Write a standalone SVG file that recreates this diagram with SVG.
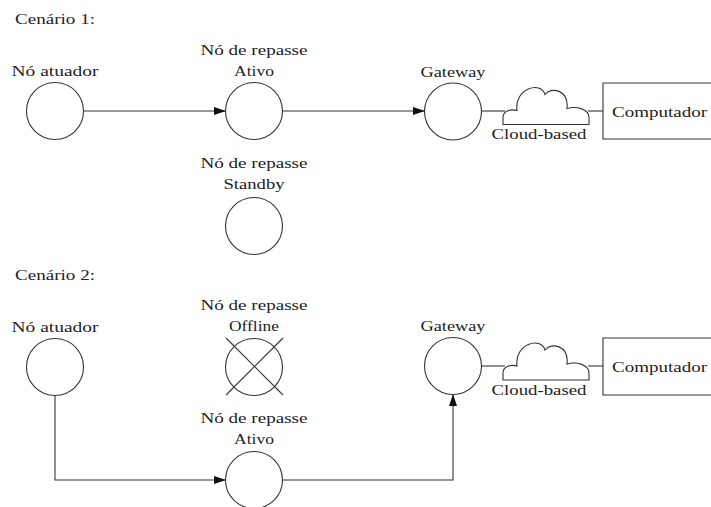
<svg xmlns="http://www.w3.org/2000/svg" width="711" height="507" viewBox="0 0 711 507">
  <style>
    text { font-family: "Liberation Serif", "DejaVu Serif", serif; font-size: 14.5px; fill: #222; }
    .mid { text-anchor: middle; }
    .node { fill: #fff; stroke: #333; stroke-width: 1.1; }
    .edge { fill: none; stroke: #333; stroke-width: 1.1; }
  </style>
  <defs>
    <marker id="arrow" viewBox="0 0 12 8" refX="12" refY="4" markerWidth="12" markerHeight="8" markerUnits="userSpaceOnUse" orient="auto">
      <path d="M0,0 L12,4 L0,8 Z" fill="#111"/>
    </marker>
    <path id="cloud" d="M0,0 L0,-7 C0,-13 7,-16 14,-14 C11,-36 38,-44 42,-30 C48,-38 66,-35 64,-16 C74,-19 86,-15 86,-7 L86,0 Z"/>
  </defs>

  <!-- Scenario 1 -->
  <text x="15" y="24" textLength="80" lengthAdjust="spacingAndGlyphs">Cenário 1:</text>

  <g id="connectors-1">
    <line class="edge" x1="84" y1="111" x2="226" y2="111" marker-end="url(#arrow)"/>
    <line class="edge" x1="282" y1="111" x2="425" y2="111" marker-end="url(#arrow)"/>
    <line class="edge" x1="481" y1="111" x2="505" y2="111"/>
    <line class="edge" x1="588" y1="111" x2="603" y2="111"/>
  </g>

  <g id="s1-atuador">
    <text class="mid" x="55" y="76" textLength="87" lengthAdjust="spacingAndGlyphs">Nó atuador</text>
    <circle class="node" cx="55" cy="111" r="28.5"/>
  </g>

  <g id="s1-repasse-ativo">
    <text class="mid" x="254" y="55" textLength="107" lengthAdjust="spacingAndGlyphs">Nó de repasse</text>
    <text class="mid" x="254" y="76" textLength="40" lengthAdjust="spacingAndGlyphs">Ativo</text>
    <circle class="node" cx="254" cy="111" r="28.5"/>
  </g>

  <g id="s1-repasse-standby">
    <text class="mid" x="254" y="168" textLength="107" lengthAdjust="spacingAndGlyphs">Nó de repasse</text>
    <text class="mid" x="254" y="189" textLength="61" lengthAdjust="spacingAndGlyphs">Standby</text>
    <circle class="node" cx="254" cy="226" r="28.5"/>
  </g>

  <g id="s1-gateway">
    <text class="mid" x="453" y="77" textLength="65" lengthAdjust="spacingAndGlyphs">Gateway</text>
    <circle class="node" cx="453" cy="111.5" r="28.5"/>
  </g>

  <g id="s1-cloud">
    <use href="#cloud" x="503" y="124.5" class="node"/>
    <text class="mid" x="539" y="139" textLength="95" lengthAdjust="spacingAndGlyphs">Cloud-based</text>
  </g>

  <g id="s1-computador">
    <path class="edge" d="M712,83 H603 V139 H712"/>
    <text x="612" y="117" textLength="95" lengthAdjust="spacingAndGlyphs">Computador</text>
  </g>

  <!-- Scenario 2 -->
  <text x="15" y="280" textLength="80" lengthAdjust="spacingAndGlyphs">Cenário 2:</text>

  <g id="connectors-2">
    <polyline class="edge" points="55,395.5 55,480 226,480" marker-end="url(#arrow)"/>
    <polyline class="edge" points="282,480 453,480 453,394" marker-end="url(#arrow)"/>
    <line class="edge" x1="481" y1="366" x2="505" y2="366"/>
    <line class="edge" x1="588" y1="366" x2="603" y2="366"/>
  </g>

  <g id="s2-atuador">
    <text class="mid" x="55" y="332" textLength="87" lengthAdjust="spacingAndGlyphs">Nó atuador</text>
    <circle class="node" cx="55" cy="367" r="28.5"/>
  </g>

  <g id="s2-repasse-offline">
    <text class="mid" x="254" y="310" textLength="107" lengthAdjust="spacingAndGlyphs">Nó de repasse</text>
    <text class="mid" x="254" y="331" textLength="50" lengthAdjust="spacingAndGlyphs">Offline</text>
    <circle class="node" cx="254" cy="367" r="28.5"/>
    <line class="edge" x1="226" y1="338" x2="283" y2="395"/>
    <line class="edge" x1="283" y1="338" x2="226" y2="395"/>
  </g>

  <g id="s2-repasse-ativo">
    <text class="mid" x="254" y="423" textLength="107" lengthAdjust="spacingAndGlyphs">Nó de repasse</text>
    <text class="mid" x="254" y="444" textLength="40" lengthAdjust="spacingAndGlyphs">Ativo</text>
    <circle class="node" cx="254" cy="480" r="28.5"/>
  </g>

  <g id="s2-gateway">
    <text class="mid" x="453" y="331" textLength="65" lengthAdjust="spacingAndGlyphs">Gateway</text>
    <circle class="node" cx="453" cy="366" r="28.5"/>
  </g>

  <g id="s2-cloud">
    <use href="#cloud" x="503" y="380" class="node"/>
    <text class="mid" x="539" y="395" textLength="95" lengthAdjust="spacingAndGlyphs">Cloud-based</text>
  </g>

  <g id="s2-computador">
    <path class="edge" d="M712,338 H603 V395 H712"/>
    <text x="612" y="372" textLength="95" lengthAdjust="spacingAndGlyphs">Computador</text>
  </g>
</svg>
